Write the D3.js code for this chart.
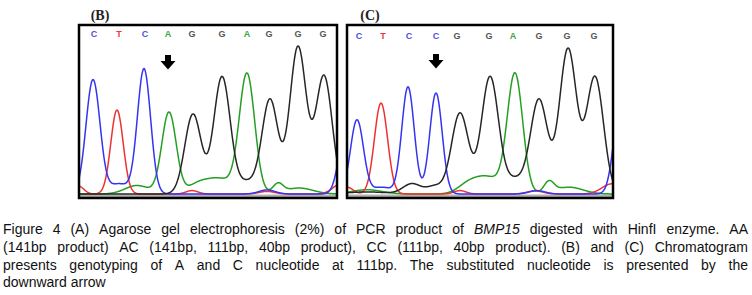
<!DOCTYPE html>
<html><head><meta charset="utf-8">
<script src="https://cdn.jsdelivr.net/npm/d3@7"></script>
<style>html,body{margin:0;padding:0;background:#fff;}svg{display:block;}</style>
</head><body>
<svg id="chart" width="752" height="295"></svg>
<script>
// ---------- DATA ----------
// Base calls (scan position, base)
const callsB = [[15,"C"],[40,"T"],[66,"C"],[89,"A"],[113,"G"],[143,"G"],[168,"A"],[190,"G"],[219,"G"],[244,"G"]];
const callsC = [[12,"C"],[36,"T"],[62,"C"],[89,"C"],[110,"G"],[142,"G"],[166,"A"],[192,"G"],[220,"G"],[247,"G"]];
// Substituted base (index into the calls) marked by the arrow
const arrowB = 3;
const arrowC = 3;
// Peaks per channel: [scan position, signal height, width]
const blueB  = [[14,671,7],[40,60,10],[65,735,6.6],[188,24,8],[266,340,6.5]];
const redB   = [[0,45,5],[38,494,6.2],[113,20,6],[188,15,8],[262,60,8]];
const greenB = [[58,50,12],[90,480,7.2],[118,45,10],[140,90,14],[168,700,7.7],[199,55,5],[220,35,14]];
const blackB = [[114,470,8.2],[143,688,8.2],[168,70,10],[191,553,8],[219,865,8.2],[245,694,8.2]];

const blueC  = [[10,435,6.5],[35,40,10],[61,629,6.2],[89,594,6.2],[190,20,8],[273,500,6.5]];
const redC   = [[0,40,6],[34,535,6.6],[113,20,6],[188,18,8],[265,60,10]];
const greenC = [[20,25,15],[120,40,10],[140,100,14],[168,700,7.7],[202,65,5],[222,40,14]];
const blackC = [[20,12,20],[65,60,9],[88,45,8],[113,476,8.5],[143,688,8.5],[168,85,10],[192,553,8.5],[221,853,8.5],[248,688,8.5]];

const panelLabels = ["(B)","(C)"];
const captionLines = [
  "Figure 4 (A) Agarose gel electrophoresis (2%) of PCR product of *BMP15* digested with HinfI enzyme. AA",
  "(141bp product) AC (141bp, 111bp, 40bp product), CC (111bp, 40bp product). (B) and (C) Chromatogram",
  "presents genotyping of A and C nucleotide at 111bp. The substituted nucleotide is presented by the",
  "downward arrow"
];

// ---------- DRAW ----------
const svg = d3.select("#chart");
const traceColor = {blue:"#3434f2", red:"#ee3232", green:"#23a023", black:"#262626"};
const baseColor = {C:"#5151e0", T:"#e63a3f", A:"#3aa83a", G:"#555555"};

const panels = [
  {label:panelLabels[0], calls:callsB, arrow:arrowB, scans:258, x0:79, x1:337, labelX:100, callY:37,
   ch:{blue:blueB, red:redB, green:greenB, black:blackB}, arrowTop:55},
  {label:panelLabels[1], calls:callsC, arrow:arrowC, scans:266, x0:347, x1:613, labelX:370, callY:39,
   ch:{blue:blueC, red:redC, green:greenC, black:blackC}, arrowTop:54}
];
const frameTop = 25, frameBottom = 198;
const y = d3.scaleLinear().domain([0,1000]).range([194,24]);

panels.forEach((p,i)=>{
  const x = d3.scaleLinear().domain([0,p.scans]).range([p.x0,p.x1]);
  const g = svg.append("g");
  const clipId = "clip"+i;
  svg.append("clipPath").attr("id",clipId).append("rect")
    .attr("x",p.x0).attr("y",frameTop).attr("width",p.x1-p.x0).attr("height",frameBottom-frameTop);

  // gray baseline band
  g.append("rect").attr("x",p.x0).attr("y",194.5).attr("width",p.x1-p.x0).attr("height",frameBottom-194.5)
    .attr("fill","#b0b0b0");

  const samples = d3.range(-2, p.scans+2.01, 0.5);
  const tg = g.append("g").attr("clip-path",`url(#${clipId})`);
  ["green","red","blue","black"].forEach(c=>{
    const peaks = p.ch[c];
    const pts = samples.map(s=>[s, d3.sum(peaks, pk=>pk[1]*Math.exp(-((s-pk[0])**2)/(2*pk[2]*pk[2])))]);
    tg.append("path").datum(pts)
      .attr("d", d3.line().x(d=>x(d[0])).y(d=>y(d[1])).curve(d3.curveMonotoneX))
      .attr("fill","none").attr("stroke",traceColor[c]).attr("stroke-width",1.5);
  });

  // frame
  g.append("rect").attr("x",p.x0).attr("y",frameTop).attr("width",p.x1-p.x0).attr("height",frameBottom-frameTop)
    .attr("fill","none").attr("stroke","#000").attr("stroke-width",2.5);

  // base calls
  g.selectAll("text.call").data(p.calls).enter().append("text")
    .attr("x",d=>x(d[0])).attr("y",p.callY).attr("text-anchor","middle")
    .attr("font-family","Liberation Sans, Arial, sans-serif").attr("font-weight","bold")
    .attr("font-size",9).attr("fill",d=>baseColor[d[1]]).text(d=>d[1]);

  // arrow
  const ax = x(p.calls[p.arrow][0]), at = p.arrowTop;
  g.append("path")
    .attr("d",`M${ax-3},${at}H${ax+3}V${at+6}H${ax+7.5}L${ax},${at+14.5}L${ax-7.5},${at+6}H${ax-3}Z`)
    .attr("fill","#000");

  // panel label
  svg.append("text").attr("x",p.labelX).attr("y",20).attr("text-anchor","middle")
    .attr("font-family","Liberation Serif, Times New Roman, serif").attr("font-weight","bold")
    .attr("font-size",14).attr("fill","#222").text(p.label);
});

// ---------- CAPTION (justified) ----------
const capFont = "Liberation Sans, Arial, sans-serif", capSize = 14;
const capX0 = 3, capX1 = 748, capY0 = 234, capDy = 17.8;
const meas = svg.append("text").attr("font-family",capFont).attr("font-size",capSize).attr("visibility","hidden");
function wordWidth(w, italic){
  meas.attr("font-style", italic?"italic":"normal").text(w);
  return meas.node().getComputedTextLength();
}
const spaceW = (()=>{ meas.text("a a"); const a=meas.node().getComputedTextLength(); meas.text("aa"); return a-meas.node().getComputedTextLength(); })();
captionLines.forEach((line,li)=>{
  const words = line.split(" ").map(w=>{
    const it = /^\*.*\*$/.test(w);
    const t = it ? w.slice(1,-1) : w;
    return {t, it, w: wordWidth(t,it)};
  });
  const total = d3.sum(words,d=>d.w);
  const last = li === captionLines.length-1;
  const gap = last ? spaceW : (capX1-capX0-total)/(words.length-1);
  let cx = capX0;
  const txt = svg.append("text").attr("y",capY0+li*capDy).attr("font-family",capFont)
    .attr("font-size",capSize).attr("fill","#111");
  words.forEach(w=>{
    txt.append("tspan").attr("x",cx).attr("font-style",w.it?"italic":"normal").text(w.t);
    cx += w.w + gap;
  });
});
meas.remove();
</script>
</body></html>
